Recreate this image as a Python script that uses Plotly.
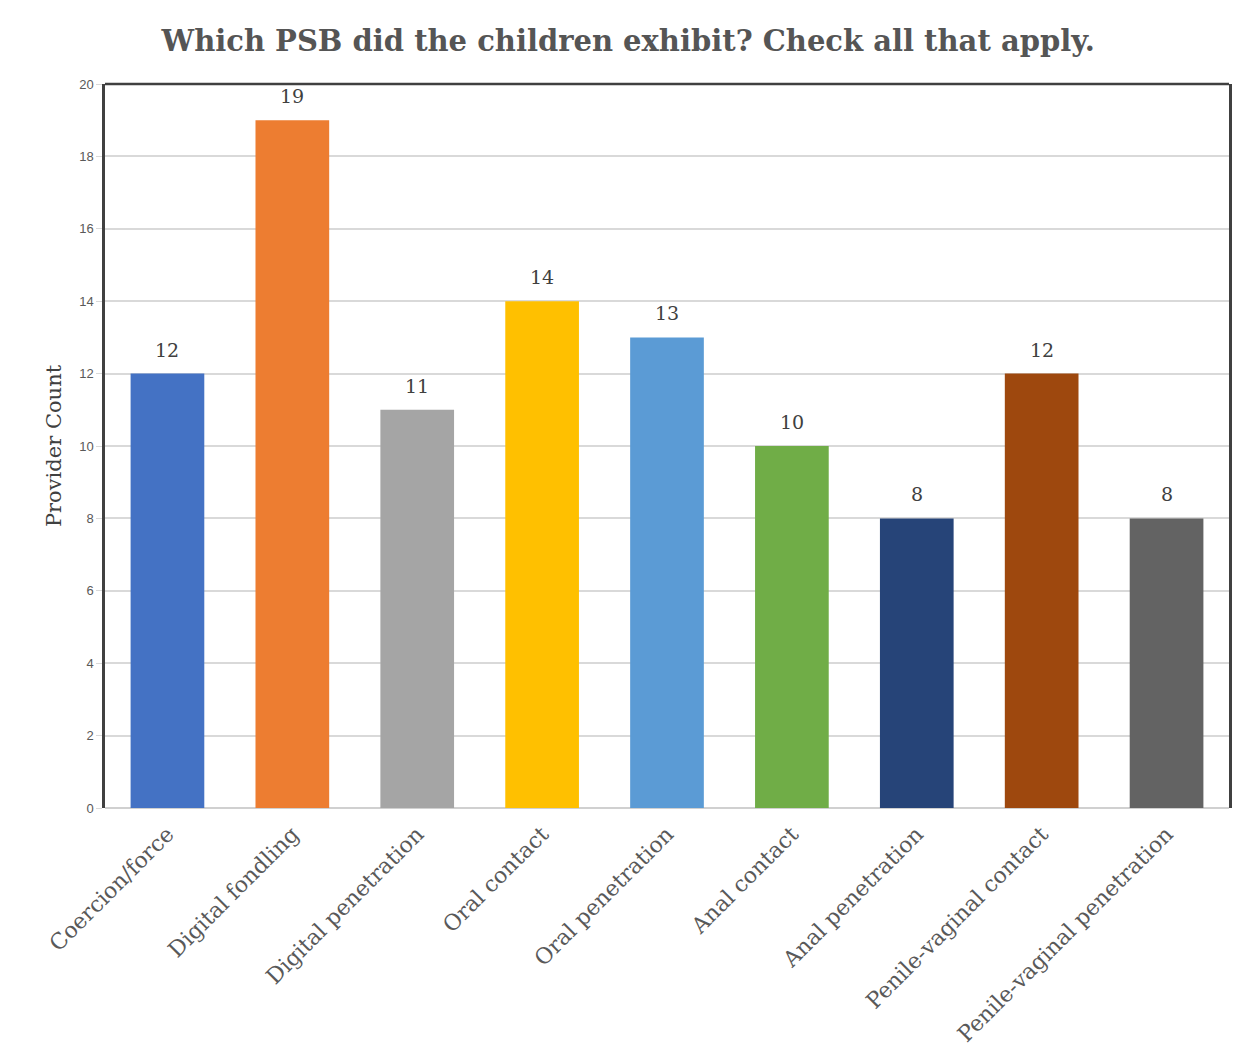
import plotly.graph_objects as go

categories = ["Coercion/force", "Digital fondling", "Digital penetration", "Oral contact",
              "Oral penetration", "Anal contact", "Anal penetration",
              "Penile-vaginal contact", "Penile-vaginal penetration"]
counts = [12, 19, 11, 14, 13, 10, 8, 12, 8]
colors = ["#4472C4", "#ED7D31", "#A5A5A5", "#FFC000", "#5B9BD5",
          "#70AD47", "#264478", "#9E480E", "#636363"]
y_ticks = list(range(0, 21, 2))

SERIF = "DejaVu Serif"

fig = go.Figure(go.Bar(
    x=categories, y=counts,
    marker=dict(color=colors, line=dict(width=0)),
    width=0.59,
))

for cat, v in zip(categories, counts):
    fig.add_annotation(x=cat, y=v, text=str(v), showarrow=False,
                       yanchor="middle", yshift=24,
                       font=dict(family=SERIF, size=19, color="#404040"))

fig.update_layout(
    width=1249, height=1059,
    margin=dict(l=105, r=20, t=84, b=251),
    paper_bgcolor="white", plot_bgcolor="white",
    title=dict(text="<b>Which PSB did the children exhibit? Check all that apply.</b>",
               x=0.503, xanchor="center", y=0.961, yanchor="middle",
               font=dict(family=SERIF, size=29, color="#555555")),
    showlegend=False,
)
fig.update_yaxes(
    range=[0, 20], tickvals=y_ticks, ticktext=[str(t) for t in y_ticks],
    showgrid=True, gridcolor="#D9D9D9", gridwidth=1.5,
    zeroline=True, zerolinecolor="#D0D0D0", zerolinewidth=2,
    showline=True, mirror=True, linecolor="#404040", linewidth=2.5,
    ticks="outside", ticklen=6, tickcolor="#D9D9D9",
    tickfont=dict(family="Liberation Sans", size=13, color="#595959"),
    title=dict(text="Provider Count", font=dict(family=SERIF, size=21, color="#404040"),
               standoff=12),
)
fig.update_xaxes(
    tickangle=-45, showline=False, showgrid=False,
    tickfont=dict(family=SERIF, size=22, color="#595959"),
    ticks="", ticklen=0, ticklabelstandoff=8,
)
fig.add_shape(type="line", xref="paper", yref="paper", x0=0, x1=1, y0=1, y1=1,
              line=dict(color="#404040", width=2.5))

fig.write_html("out.html")
